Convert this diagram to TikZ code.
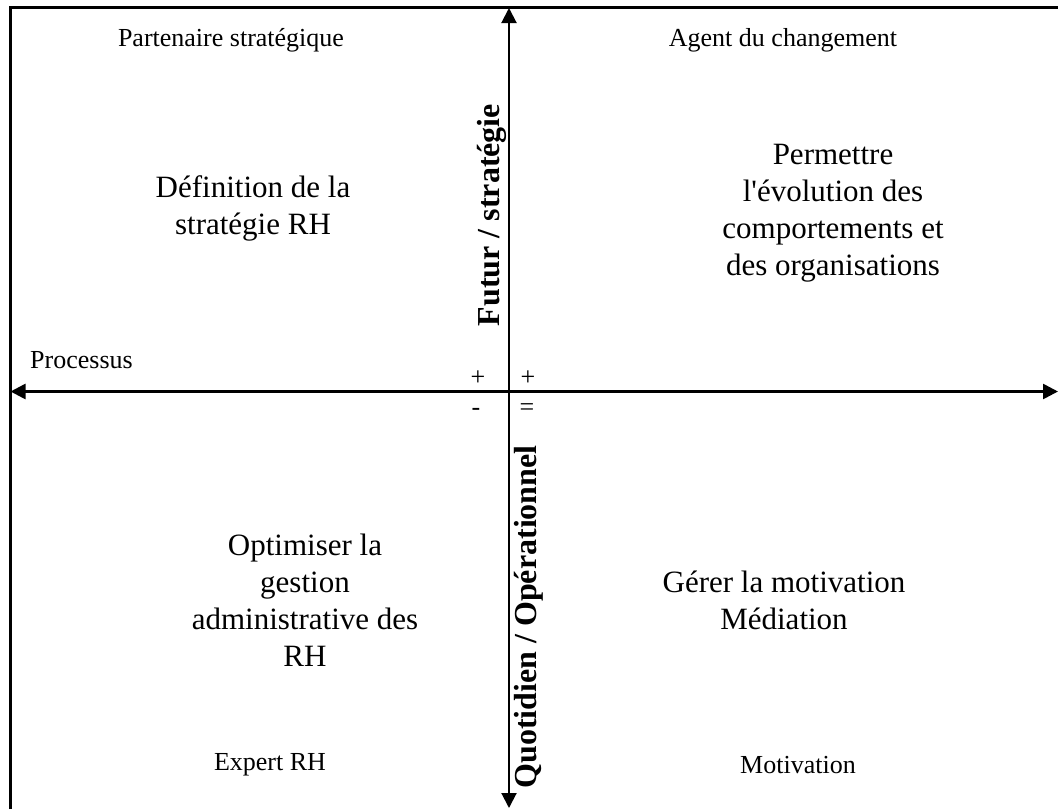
\documentclass[tikz,border=0pt]{standalone}
\usepackage{fontspec}
\setmainfont{Liberation Serif}
\usetikzlibrary{arrows.meta, positioning}

\begin{document}
\begin{tikzpicture}[
      x=1pt, y=-1pt,
      axis/.style={{Triangle[width=15pt,length=15pt]}-{Triangle[width=15pt,length=15pt]}},
      frame/.style={line width=2.5pt},
      role/.style={font=\fontsize{26}{31}\selectfont, inner sep=0pt},
      mission/.style={font=\fontsize{31}{37}\selectfont, align=center, inner sep=0pt},
      axislabel/.style={font=\fontsize{32}{38}\selectfont\bfseries, rotate=90, inner sep=0pt},
      sign/.style={font=\fontsize{26}{31}\selectfont, inner sep=0pt},
      ]
    \useasboundingbox (0,0) rectangle (1058,809);
    % frame
    \draw[frame] (10.5,809) -- (10.5,7.5) -- (1058,7.5);
    % axes
    \coordinate (top) at (509,8);
    \coordinate (bottom) at (509,808);
    \coordinate (left) at (10.5,391.5);
    \coordinate (right) at (1058,391.5);
    \draw[axis, line width=2pt] (bottom) -- (top);
    \draw[axis, line width=2.6pt] (left) -- (right);
    % roles
    \node[role] (partner) at (231,40) {Partenaire stratégique};
    \node[role] (agent) at (783,40) {Agent du changement};
    \node[role, anchor=base west] (process) at (30,368) {Processus};
    \node[role] (expert) at (270,765) {Expert RH};
    \node[role] (motiv) at (798,765) {Motivation};
    % missions
    \node[mission] (strat) at (253,208) {Définition de la\\stratégie RH};
    \node[mission] (change) at (833,213) {Permettre\\l\textquotesingle évolution des\\comportements et\\des organisations};
    \node[mission] (admin) at (305,600) {Optimiser la\\gestion\\administrative des\\RH};
    \node[mission] (media) at (784,600) {Gérer la motivation\\Médiation};
    % axis labels
    \node[axislabel] (future) at (492,215) {Futur / stratégie};
    \node[axislabel] (daily) at (529,617) {Quotidien / Opérationnel};
    % signs
    \node[sign] (plusl) at (478,378) {+};
    \node[sign] (plusr) at (528,378) {+};
    \node[sign] (minus) at (476,412) {-};
    \node[sign] (equal) at (527,410) {=};
  \end{tikzpicture}
\end{document}
